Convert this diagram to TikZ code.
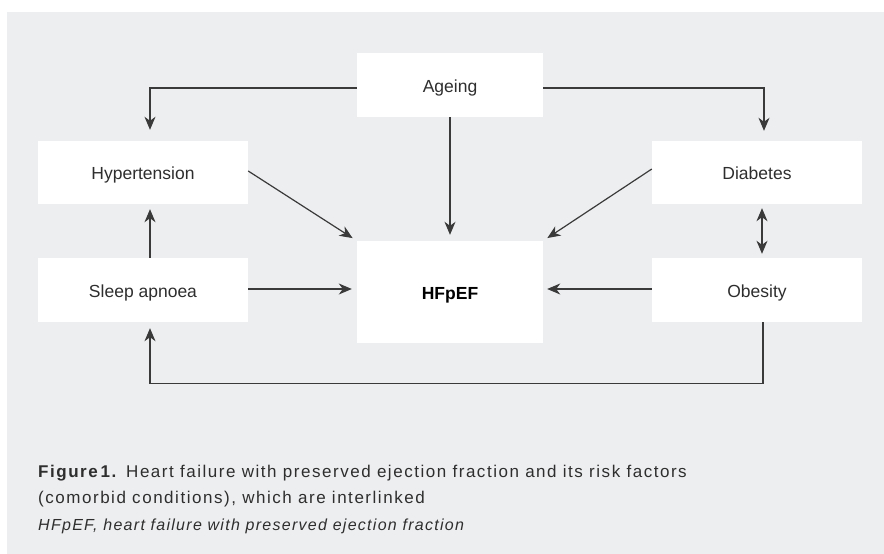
\documentclass[tikz,border=0pt]{standalone}
\usepackage{fontspec}
\setmainfont{Liberation Sans}
\usetikzlibrary{arrows.meta,calc}
\definecolor{bggray}{HTML}{EDEEF0}
\definecolor{linecol}{HTML}{3A3A3A}
\definecolor{txtcol}{HTML}{2E2E2E}
\begin{document}
\begin{tikzpicture}[x=1pt,y=-1pt,
  box/.style={fill=white,draw=none,inner sep=0pt,minimum width=210pt,minimum height=63pt,
    text height=16pt,text depth=2pt,
    font=\fontsize{17.5}{20}\selectfont,text=txtcol},
  cbox/.style={box,minimum width=186pt},
  conn/.style={draw=linecol,line width=1.2pt,-{Stealth[length=13pt,width=11pt,inset=4pt]}},
  dconn/.style={draw=linecol,line width=1.2pt,{Stealth[length=13pt,width=11pt,inset=4pt]}-{Stealth[length=13pt,width=11pt,inset=4pt]}},
  capt/.style={anchor=base west,inner sep=0pt,font=\fontsize{17}{20}\selectfont\addfontfeatures{LetterSpace=9},text=txtcol}]
\useasboundingbox (0,0) rectangle (884,554);
\fill[white] (0,0) rectangle (884,554);
\fill[bggray] (7,12) rectangle (884,554);

\node[cbox,minimum height=64pt] (age) at (450,85) {Ageing};
\node[box] (hyp) at (143,172.5) {Hypertension};
\node[box,minimum height=64pt] (sleep) at (143,290) {Sleep apnoea};
\node[box] (dia) at (757,172.5) {Diabetes};
\node[box,minimum height=64pt] (obe) at (757,290) {Obesity};
\node[cbox,minimum height=102pt,font=\fontsize{17.5}{20}\selectfont\bfseries,text=black] (hf) at (450,292) {HFpEF};

% Ageing branches
\draw[conn,shorten >=11pt] ([yshift=-3pt]age.west) -| ([xshift=7pt]hyp.north);
\draw[conn,shorten >=10pt] ([yshift=-3pt]age.east) -| ([xshift=7pt]dia.north);
\draw[conn,shorten >=6pt] (age.south) -- (hf.north);
% diagonals
\draw[conn,shorten >=5pt] ([yshift=1.5pt]hyp.east) -- (hf.north west);
\draw[conn,shorten >=5pt] ([yshift=3.5pt]dia.west) -- (hf.north east);
% horizontals
\draw[conn,shorten >=5pt] ([yshift=1pt]sleep.east) -- ([yshift=1pt]sleep.east -| hf.west);
\draw[conn,shorten >=4pt] ([yshift=1pt]obe.west) -- ([yshift=1pt]obe.west -| hf.east);
% verticals
\draw[conn,shorten >=5pt] ([xshift=7pt]sleep.north) -- ([xshift=7pt]hyp.south);
\draw[dconn,shorten >=4pt,shorten <=4pt] ([xshift=5pt]dia.south) -- ([xshift=5pt]obe.north);
% loop
\coordinate (loopR) at ($([xshift=6pt]obe.south)+(0,61)$);
\draw[conn,shorten >=6pt] ([xshift=6pt]obe.south) -- (loopR) -| ([xshift=7pt]sleep.south);

% caption
\node[capt] (c1) at (38,477) {\textbf{Figure\,1.} Heart failure with preserved ejection fraction and its risk factors};
\node[capt] (c2) at (38,503) {(comorbid conditions), which are interlinked};
\node[capt,font=\fontsize{16}{19}\selectfont\itshape\addfontfeatures{LetterSpace=8}] (c3) at (38,530) {HFpEF, heart failure with preserved ejection fraction};
\end{tikzpicture}
\end{document}
